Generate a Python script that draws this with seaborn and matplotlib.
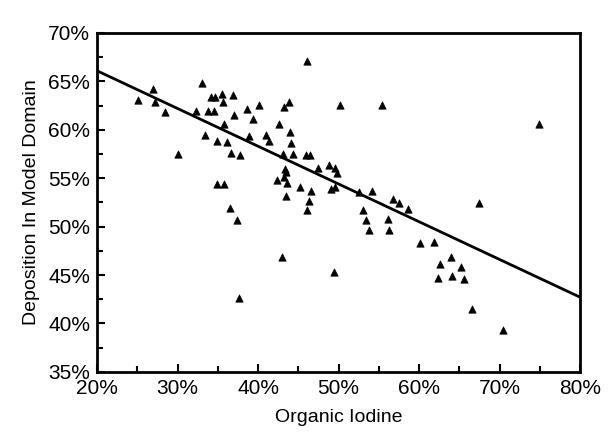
import matplotlib
matplotlib.use("Agg")
import matplotlib.pyplot as plt
import seaborn as sns
import pandas as pd
from matplotlib.ticker import MultipleLocator, FuncFormatter

# organic iodine fraction (%) and deposition in model domain (%)
organic_iodine = [
    25.1, 27.0, 27.2, 28.5, 30.0, 33.0, 34.1, 34.6, 35.5, 35.6,
    36.9, 32.3, 33.8, 34.5, 37.0, 38.6, 40.1, 39.4, 35.8, 33.4,
    34.9, 36.2, 36.6, 37.7, 34.9, 35.8, 38.9, 41.0, 41.4, 42.6,
    43.2, 43.8, 44.0, 44.1, 43.1, 44.3, 46.0, 46.5, 46.1, 50.2,
    55.4, 43.4, 43.5, 47.5, 48.8, 49.5, 49.8, 42.4, 43.2, 43.6,
    43.5, 45.2, 46.6, 46.3, 46.1, 49.1, 49.6, 52.5, 54.2, 56.8,
    57.5, 58.6, 53.0, 53.4, 53.8, 56.1, 56.3, 60.1, 61.9, 63.9,
    62.6, 65.2, 62.3, 64.1, 65.6, 66.6, 70.4, 74.9, 67.4, 49.4,
    43.0, 37.6, 36.5, 37.4,
]
deposition = [
    63.1, 64.2, 62.9, 61.8, 57.5, 64.8, 63.4, 63.4, 63.7, 62.9,
    63.6, 61.9, 61.9, 61.9, 61.5, 62.1, 62.6, 61.1, 60.6, 59.5,
    58.8, 58.7, 57.6, 57.4, 54.4, 54.4, 59.4, 59.5, 58.8, 60.6,
    62.4, 62.9, 59.8, 58.6, 57.5, 57.5, 57.4, 57.4, 67.1, 62.6,
    62.6, 56.0, 55.6, 56.1, 56.4, 56.1, 55.5, 54.8, 55.1, 54.5,
    53.2, 54.1, 53.7, 52.6, 51.7, 53.9, 54.1, 53.6, 53.7, 52.9,
    52.4, 51.8, 51.7, 50.7, 49.6, 50.8, 49.7, 48.3, 48.4, 46.9,
    46.1, 45.8, 44.7, 44.9, 44.6, 41.5, 39.3, 60.6, 52.4, 45.3,
    46.9, 42.6, 51.9, 50.7,
]

# fitted trend line end points
fit_x = [20, 80]
fit_y = [66.1, 42.7]

sns.set_theme(style="white")
plt.rcParams["font.family"] = ["Liberation Sans", "DejaVu Sans"]

df = pd.DataFrame({"organic": organic_iodine, "deposition": deposition})
fit = pd.DataFrame({"organic": fit_x, "deposition": fit_y})

fig = plt.figure(figsize=(6.14, 4.4), dpi=100)
ax = fig.add_axes([0.158, 0.155, 0.787, 0.77])

sns.lineplot(data=fit, x="organic", y="deposition", color="black",
             linewidth=2, ax=ax)
sns.scatterplot(data=df, x="organic", y="deposition", marker="^",
                color="black", s=28, edgecolor="black", linewidth=0.5, ax=ax)

ax.set_xlim(20, 80)
ax.set_ylim(35, 70)
ax.xaxis.set_major_locator(MultipleLocator(10))
ax.xaxis.set_minor_locator(MultipleLocator(5))
ax.yaxis.set_major_locator(MultipleLocator(5))
ax.yaxis.set_minor_locator(MultipleLocator(2.5))
pct = FuncFormatter(lambda v, _: f"{v:.0f}%")
ax.xaxis.set_major_formatter(pct)
ax.yaxis.set_major_formatter(pct)
ax.tick_params(axis="both", which="both", direction="in", colors="black",
               labelsize=15, width=1.5)
ax.tick_params(which="major", length=6, pad=5)
ax.tick_params(which="minor", length=4)
ax.tick_params(axis="x", which="both", top=False, bottom=True)
ax.tick_params(axis="y", which="both", left=True, right=False)

for spine in ax.spines.values():
    spine.set_color("black")
    spine.set_linewidth(2)

ax.set_xlabel("Organic Iodine", fontsize=14, color="black", labelpad=8)
ax.set_ylabel("Deposition In Model Domain", fontsize=14, color="black",
              labelpad=6)

fig.savefig("out.png", dpi=100, facecolor="white")
